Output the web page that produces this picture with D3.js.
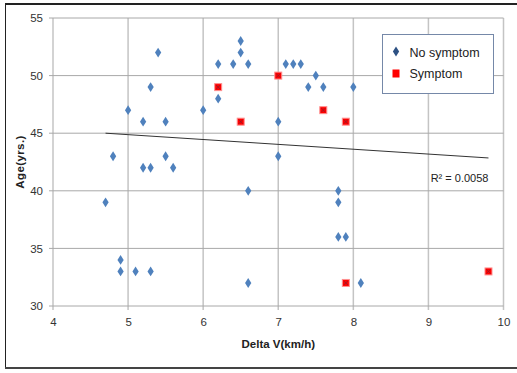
<!DOCTYPE html>
<html>
<head>
<meta charset="utf-8">
<script src="https://cdn.jsdelivr.net/npm/d3@7"></script>
<style>
  body { margin: 0; background: #fff; }
  text { font-family: "Liberation Sans", Arial, sans-serif; }
</style>
</head>
<body>
<div id="chart"></div>
<script>
// Delta V (km/h) vs age (yrs.)
const noSymptomV   = [4.7, 4.8, 4.9, 4.9, 5.0, 5.1, 5.2, 5.2, 5.3, 5.3, 5.3, 5.4, 5.5, 5.5, 5.6,
                      6.0, 6.2, 6.2, 6.4, 6.5, 6.5, 6.6, 6.6, 6.6, 7.0, 7.0, 7.1, 7.2, 7.3, 7.4,
                      7.5, 7.6, 7.8, 7.8, 7.8, 7.9, 8.0, 8.1];
const noSymptomAge = [39, 43, 34, 33, 47, 33, 46, 42, 49, 42, 33, 52, 46, 43, 42,
                      47, 51, 48, 51, 53, 52, 51, 40, 32, 46, 43, 51, 51, 51, 49,
                      50, 49, 40, 39, 36, 36, 49, 32];
const symptomV   = [6.2, 6.5, 7.0, 7.6, 7.9, 7.9, 9.8];
const symptomAge = [49, 46, 50, 47, 46, 32, 33];

// linear trendline as drawn (endpoints)
const trendV   = [4.7, 9.8];
const trendAge = [45.0, 42.85];
const r2Label = "R\u00b2 = 0.0058";

const xTicks = [4, 5, 6, 7, 8, 9, 10];
const yTicks = [30, 35, 40, 45, 50, 55];
const seriesNames = ["No symptom", "Symptom"];

const W = 517, H = 373;
const margin = { top: 18, right: 14, bottom: 67, left: 53 };
const width = 503.5 - margin.left, height = 306 - margin.top;

const svg = d3.select("#chart").append("svg")
    .attr("width", W)
    .attr("height", H);

// outer frame
svg.append("line").attr("x1", 5.5).attr("x2", 5.5).attr("y1", 3).attr("y2", 369)
    .attr("stroke", "#222").attr("stroke-width", 1);
svg.append("line").attr("x1", 5).attr("x2", W).attr("y1", 4).attr("y2", 4)
    .attr("stroke", "#222").attr("stroke-width", 2);
svg.append("line").attr("x1", 5).attr("x2", W).attr("y1", 368).attr("y2", 368)
    .attr("stroke", "#444").attr("stroke-width", 2);

const g = svg.append("g")
    .attr("transform", `translate(${margin.left},${margin.top})`);

const x = d3.scaleLinear().domain([4, 10]).range([0, width]);
const y = d3.scaleLinear().domain([30, 55]).range([height, 0]);

// grid
g.append("g").selectAll("line").data(xTicks).join("line")
    .attr("x1", d => x(d)).attr("x2", d => x(d))
    .attr("y1", 0).attr("y2", height + 4)
    .attr("stroke", "#c4c4c4").attr("stroke-width", 1.5);
g.append("g").selectAll("line").data(yTicks).join("line")
    .attr("x1", -4).attr("x2", width)
    .attr("y1", d => y(d)).attr("y2", d => y(d))
    .attr("stroke", "#a8a8a8").attr("stroke-width", 1);

// axes labels
const xAxis = g.append("g")
    .attr("transform", `translate(0,${height})`)
    .call(d3.axisBottom(x).tickValues(xTicks).tickFormat(d3.format("d")).tickSize(0).tickPadding(12));
const yAxis = g.append("g")
    .call(d3.axisLeft(y).tickValues(yTicks).tickFormat(d3.format("d")).tickSize(0).tickPadding(10));
[xAxis, yAxis].forEach(a => {
  a.select(".domain").remove();
  a.selectAll("text").attr("font-size", 11.5).attr("fill", "#333")
    .attr("font-family", '"Liberation Sans", Arial, sans-serif');
});

g.append("text")
    .attr("x", x(7)).attr("y", height + 42)
    .attr("text-anchor", "middle")
    .attr("font-size", 11.5).attr("font-weight", "bold").attr("fill", "#222")
    .text("Delta V(km/h)");
g.append("text")
    .attr("transform", `translate(${24 - margin.left},${162 - margin.top}) rotate(-90)`)
    .attr("text-anchor", "middle")
    .attr("font-size", 11.5).attr("font-weight", "bold").attr("fill", "#222")
    .attr("letter-spacing", 0.4)
    .text("Age(yrs.)");

// trendline
g.append("line")
    .attr("x1", x(trendV[0])).attr("y1", y(trendAge[0]))
    .attr("x2", x(trendV[1])).attr("y2", y(trendAge[1]))
    .attr("stroke", "#333").attr("stroke-width", 1);
g.append("text")
    .attr("x", x(9.8)).attr("y", y(40.8))
    .attr("text-anchor", "end")
    .attr("font-size", 11).attr("fill", "#222")
    .text(r2Label);

// markers
const diamond = d3.symbol().type(d3.symbolDiamond).size(28);
g.append("g").selectAll("path")
  .data(d3.zip(noSymptomV, noSymptomAge))
  .join("path")
    .attr("d", diamond)
    .attr("transform", d => `translate(${x(d[0])},${y(d[1])}) scale(1.1,1)`)
    .attr("fill", "#4f81bd");

const sq = g.append("g").selectAll("g")
  .data(d3.zip(symptomV, symptomAge))
  .join("g")
    .attr("transform", d => `translate(${x(d[0])},${y(d[1])})`);
sq.append("rect")
    .attr("x", -3.5).attr("y", -3.5).attr("width", 7).attr("height", 7)
    .attr("fill", "#ff0000").attr("stroke", "#ff9090").attr("stroke-width", 1);
sq.append("path")
    .attr("d", "M-2,-2L2,2M2,-2L-2,2")
    .attr("stroke", "#8a2030").attr("stroke-width", 0.8);

// legend
const leg = svg.append("g").attr("transform", "translate(382.5,34.5)");
leg.append("rect")
    .attr("width", 111).attr("height", 59)
    .attr("fill", "#fff").attr("stroke", "#7588a8").attr("stroke-width", 1);
leg.append("path")
    .attr("d", diamond)
    .attr("transform", "translate(13.5,17) scale(1.1,1)")
    .attr("fill", "#2d5183");
leg.append("rect")
    .attr("x", 10).attr("y", 35).attr("width", 7).attr("height", 8)
    .attr("fill", "#ff0000");
leg.selectAll("text.lab").data(seriesNames).join("text")
    .attr("class", "lab")
    .attr("x", 27).attr("y", (d, i) => 22 + i * 21)
    .attr("font-size", 12.5).attr("fill", "#222")
    .text(d => d);
</script>
</body>
</html>
